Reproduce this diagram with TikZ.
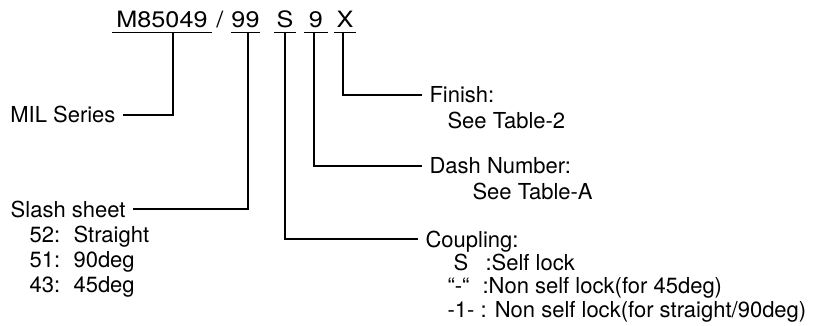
\documentclass[tikz,border=0pt]{standalone}
\usepackage{fontspec}
\setmainfont{TeX Gyre Heros}
\newfontfamily\codefont[FakeStretch=1.12]{TeX Gyre Heros}
\begin{document}
\begin{tikzpicture}[x=1pt,y=-1pt,line width=1.1pt,
	every node/.style={font=\fontsize{22}{26}\selectfont},
	part/.style={anchor=base,inner xsep=0pt,inner ysep=4pt,text depth=0pt,font=\codefont\fontsize{22.5}{26}\selectfont},
	lefthead/.style={anchor=base east,inner xsep=7pt,inner ysep=0pt,text height=16pt,text depth=0pt},
	righthead/.style={lefthead,anchor=base west},
	item/.style={anchor=base west,inner sep=0pt}]
	\useasboundingbox (0,0) rectangle (817,326);
	\node[part,minimum width=98pt] (M85049) at (162,28) {M85049};
	\node[part] (slash) at (220,28) {/};
	\node[part,minimum width=27pt] (99) at (245.5,28) {99};
	\node[part,minimum width=20pt] (S) at (285,28) {S};
	\node[part,minimum width=22pt] (9) at (316,28) {9};
	\node[part,minimum width=20pt] (X) at (345,28) {X};
	\foreach \p in {M85049,99,S,9,X}
		\draw (\p.south west) -- (\p.south east);
	\coordinate (Mtap) at (173,32);
	\coordinate (99tap) at (248,32);
	\coordinate (Stap) at (285,32);
	\coordinate (9tap) at (314,32);
	\coordinate (Xtap) at (343,32);
	\node[lefthead] (MIL) at (123,123) {MIL Series};
	\node[lefthead] (slashsheet) at (133,217) {Slash sheet};
	\node[righthead] (finish) at (422,103) {Finish:};
	\node[righthead] (dash) at (422,174) {Dash Number:};
	\node[righthead] (coupling) at (418,247) {Coupling:};
	\node[item] (seetable2) at (447,129) {See Table-2};
	\node[item] (seetableA) at (472,200) {See Table-A};
	\node[item] (straight) at (29,242) {\makebox[44pt][l]{52:}Straight};
	\node[item] (deg90) at (29,267) {\makebox[44pt][l]{51:}90deg};
	\node[item] (deg45) at (29,292) {\makebox[44pt][l]{43:}45deg};
	\node[item] (selflock) at (453,270) {\makebox[32pt][l]{S}:Self lock};
	\node[item] (nonself45) at (447,293) {\makebox[35pt][l]{“-“}:Non self lock(for 45deg)};
	\node[item] (nonself90) at (447,317) {-1- : Non self lock(for straight/90deg)};
	\draw (Mtap) |- (MIL.east);
	\draw (99tap) |- (slashsheet.east);
	\draw (Stap) |- (coupling.west);
	\draw (9tap) |- (dash.west);
	\draw (Xtap) |- (finish.west);
\end{tikzpicture}
\end{document}
